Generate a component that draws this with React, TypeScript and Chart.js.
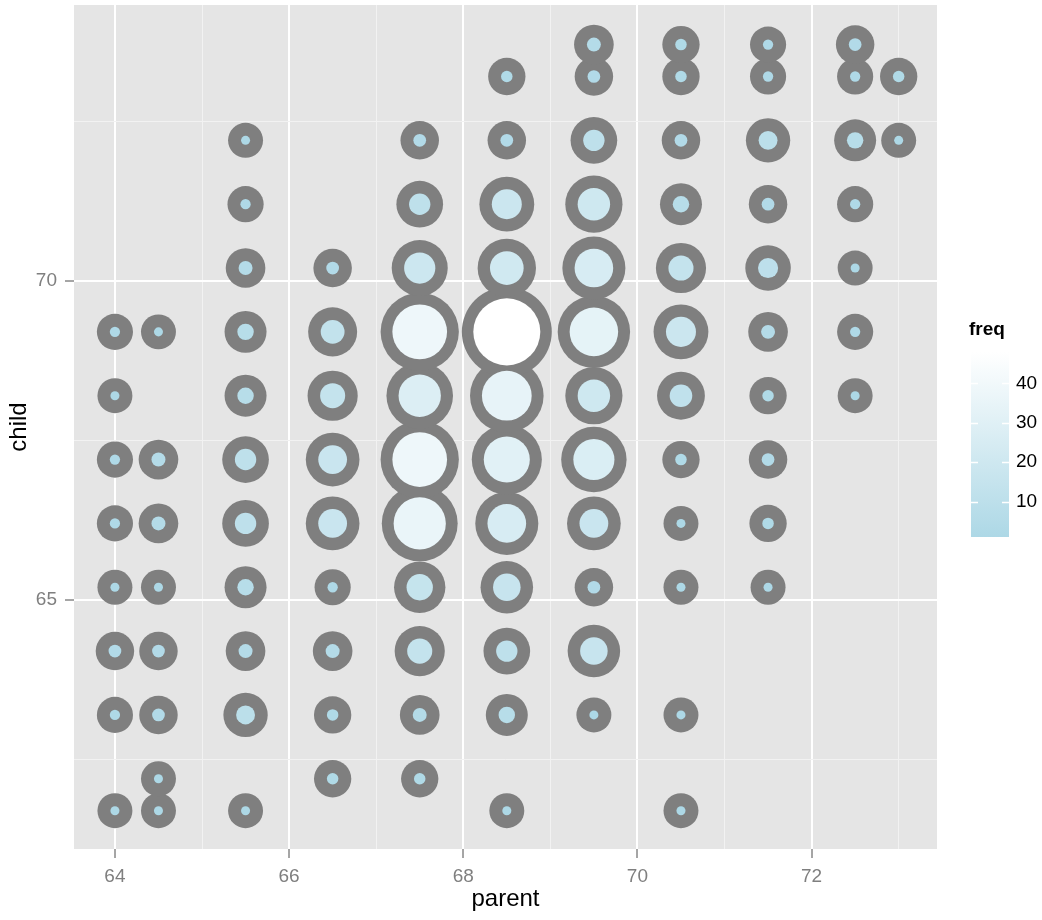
import React, { useEffect, useRef } from 'react';
import { Chart, registerables } from 'chart.js';

Chart.register(...registerables);

// ---- Data (Galton parent/child frequency table) ----
const parentValues = [64, 64.5, 65.5, 66.5, 67.5, 68.5, 69.5, 70.5, 71.5, 72.5, 73];
const childValues = [61.7, 62.2, 63.2, 64.2, 65.2, 66.2, 67.2, 68.2, 69.2, 70.2, 71.2, 72.2, 73.2, 73.7];

// frequency per child height, one entry per parent value
const freqChild617 = [1, 1, 1, 0, 0, 1, 0, 1, 0, 0, 0];
const freqChild622 = [0, 1, 0, 3, 3, 0, 0, 0, 0, 0, 0];
const freqChild632 = [2, 4, 9, 3, 5, 7, 1, 1, 0, 0, 0];
const freqChild642 = [4, 4, 5, 5, 14, 11, 16, 0, 0, 0, 0];
const freqChild652 = [1, 1, 7, 2, 15, 16, 4, 1, 1, 0, 0];
const freqChild662 = [2, 5, 11, 17, 36, 25, 17, 1, 3, 0, 0];
const freqChild672 = [2, 5, 11, 17, 38, 31, 27, 3, 4, 0, 0];
const freqChild682 = [1, 0, 7, 14, 28, 34, 20, 12, 3, 1, 0];
const freqChild692 = [2, 1, 7, 13, 38, 48, 33, 18, 5, 2, 0];
const freqChild702 = [0, 0, 5, 4, 19, 21, 25, 14, 10, 1, 0];
const freqChild712 = [0, 0, 2, 0, 11, 18, 20, 7, 4, 2, 0];
const freqChild722 = [0, 0, 1, 0, 4, 4, 11, 4, 9, 7, 1];
const freqChild732 = [0, 0, 0, 0, 0, 3, 4, 3, 2, 2, 3];
const freqChild737 = [0, 0, 0, 0, 0, 0, 5, 3, 2, 4, 0];

const freqRows = [
  freqChild617, freqChild622, freqChild632, freqChild642, freqChild652, freqChild662, freqChild672,
  freqChild682, freqChild692, freqChild702, freqChild712, freqChild722, freqChild732, freqChild737,
];

// ---- Axis ticks ----
const xGridValues = [64, 65, 66, 67, 68, 69, 70, 71, 72, 73];
const xTickLabels = [64, 66, 68, 70, 72];
const yGridValues = [62.5, 65, 67.5, 70, 72.5];
const yTickLabels = [65, 70];
const legendTicks = [10, 20, 30, 40];

const LOW = [173, 216, 230]; // lightblue
const HIGH = [255, 255, 255]; // white

type Pt = { x: number; y: number; f: number };

function buildPoints(): Pt[] {
  const pts: Pt[] = [];
  childValues.forEach((c, i) => {
    parentValues.forEach((p, j) => {
      const f = freqRows[i][j];
      if (f > 0) pts.push({ x: p, y: c, f });
    });
  });
  return pts;
}

export default function App() {
  const ref = useRef<HTMLCanvasElement | null>(null);

  useEffect(() => {
    const canvas = ref.current;
    if (!canvas) return;
    const points = buildPoints();
    const fMin = Math.min(...points.map((p) => p.f));
    const fMax = Math.max(...points.map((p) => p.f));

    const colorFor = (f: number) => {
      const t = (f - fMin) / (fMax - fMin);
      const c = LOW.map((l, k) => Math.round(l + (HIGH[k] - l) * t));
      return `rgb(${c[0]},${c[1]},${c[2]})`;
    };
    const innerR = (f: number) => 3.9 + 0.617 * f;
    const outerR = (f: number) => 16.9 + 0.585 * f;

    const FONT = "'Liberation Sans', Arial, sans-serif";
    Chart.defaults.font.family = FONT;

    const panelBg = {
      id: 'panelBg',
      beforeDraw(chart: any) {
        const { ctx, chartArea } = chart;
        ctx.save();
        ctx.fillStyle = '#E5E5E5';
        ctx.fillRect(chartArea.left, chartArea.top, chartArea.right - chartArea.left, chartArea.bottom - chartArea.top);
        ctx.restore();
      },
    };

    const colorBar = {
      id: 'colorBar',
      afterDraw(chart: any) {
        const { ctx } = chart;
        const bx = 971, bw = 38, top = 352, bottom = 537;
        ctx.save();
        const g = ctx.createLinearGradient(0, bottom, 0, top);
        g.addColorStop(0, colorFor(fMin));
        g.addColorStop(1, colorFor(fMax));
        ctx.fillStyle = g;
        ctx.fillRect(bx, top, bw, bottom - top);
        const yOf = (v: number) => bottom - ((v - fMin) / (fMax - fMin)) * (bottom - top);
        ctx.strokeStyle = '#ffffff';
        ctx.lineWidth = 1.5;
        ctx.fillStyle = '#000000';
        ctx.font = `19px ${FONT}`;
        ctx.textAlign = 'left';
        ctx.textBaseline = 'middle';
        legendTicks.forEach((v) => {
          const y = Math.round(yOf(v)) + 0.5;
          ctx.beginPath();
          ctx.moveTo(bx, y);
          ctx.lineTo(bx + 7, y);
          ctx.moveTo(bx + bw - 7, y);
          ctx.lineTo(bx + bw, y);
          ctx.stroke();
          ctx.fillText(String(v), 1016, yOf(v));
        });
        ctx.font = `bold 19px ${FONT}`;
        ctx.textBaseline = 'alphabetic';
        ctx.fillText('freq', 969, 335);
        ctx.restore();
      },
    };

    const chart = new Chart(canvas, {
      type: 'scatter',
      data: {
        datasets: [
          {
            label: 'inner',
            data: points as any,
            order: 1,
            pointRadius: (c: any) => innerR(c.raw.f),
            pointBackgroundColor: (c: any) => colorFor(c.raw.f),
            pointBorderWidth: 0,
            pointHoverRadius: (c: any) => innerR(c.raw.f),
          },
          {
            label: 'outer',
            data: points as any,
            order: 2,
            pointRadius: (c: any) => outerR(c.raw.f),
            pointBackgroundColor: '#7F7F7F',
            pointBorderWidth: 0,
            pointHoverRadius: (c: any) => outerR(c.raw.f),
          },
        ],
      },
      options: {
        responsive: false,
        animation: false,
        events: [],
        layout: { autoPadding: false, padding: { left: 0, top: 5, right: 105, bottom: 0 } },
        plugins: { legend: { display: false }, tooltip: { enabled: false } },
        scales: {
          x: {
            type: 'linear',
            min: 63.53,
            max: 73.44,
            afterBuildTicks: (s: any) => {
              s.ticks = xGridValues.map((v) => ({ value: v }));
            },
            afterFit: (s: any) => {
              s.height = 71;
              s.paddingLeft = 0;
              s.paddingRight = 0;
            },
            border: { display: false },
            grid: {
              color: (c: any) => (xTickLabels.includes(c.tick?.value) ? '#FFFFFF' : '#F2F2F2'),
              lineWidth: (c: any) => (xTickLabels.includes(c.tick?.value) ? 2 : 1),
              tickColor: (c: any) => (xTickLabels.includes(c.tick?.value) ? '#4D4D4D' : 'rgba(0,0,0,0)'),
              tickLength: 9,
              tickWidth: 1,
            },
            ticks: {
              autoSkip: false,
              maxRotation: 0,
              padding: 7,
              color: '#7F7F7F',
              font: { size: 19 },
              callback: (v: any) => (xTickLabels.includes(Number(v)) ? String(v) : ''),
            },
            title: { display: true, text: 'parent', color: '#000000', font: { size: 24 }, padding: { top: 0, bottom: 6 } },
          },
          y: {
            type: 'linear',
            min: 61.1,
            max: 74.32,
            afterBuildTicks: (s: any) => {
              s.ticks = yGridValues.map((v) => ({ value: v }));
            },
            afterFit: (s: any) => {
              s.width = 74;
              s.paddingTop = 0;
              s.paddingBottom = 0;
            },
            border: { display: false },
            grid: {
              color: (c: any) => (yTickLabels.includes(c.tick?.value) ? '#FFFFFF' : '#F2F2F2'),
              lineWidth: (c: any) => (yTickLabels.includes(c.tick?.value) ? 2 : 1),
              tickColor: (c: any) => (yTickLabels.includes(c.tick?.value) ? '#4D4D4D' : 'rgba(0,0,0,0)'),
              tickLength: 9,
              tickWidth: 1,
            },
            ticks: {
              autoSkip: false,
              padding: 8,
              color: '#7F7F7F',
              font: { size: 19 },
              callback: (v: any) => (yTickLabels.includes(Number(v)) ? String(v) : ''),
            },
            title: { display: true, text: 'child', color: '#000000', font: { size: 24 }, padding: { top: 5, bottom: 0 } },
          },
        },
      },
      plugins: [panelBg, colorBar],
    });

    return () => chart.destroy();
  }, []);

  return (
    <div style={{ position: 'absolute', left: 0, top: 0, width: 1042, height: 920, background: '#ffffff' }}>
      <canvas ref={ref} width={1042} height={920} style={{ display: 'block', width: 1042, height: 920 }} />
    </div>
  );
}
